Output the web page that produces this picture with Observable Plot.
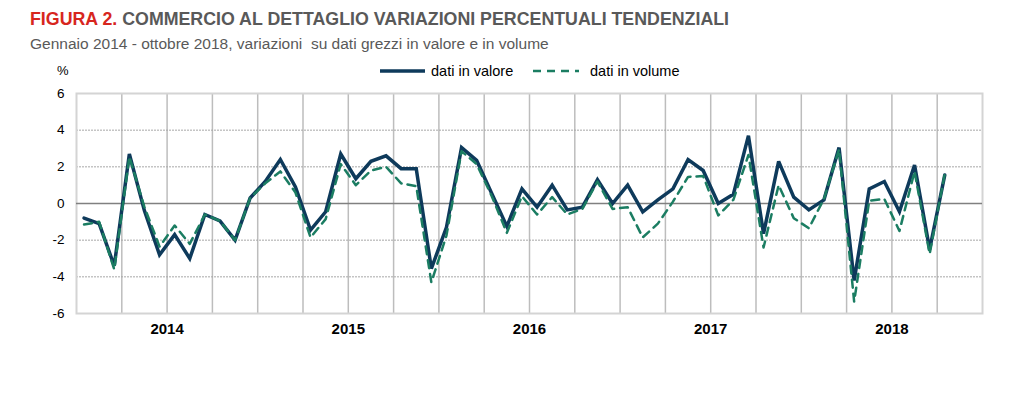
<!DOCTYPE html>
<html>
<head>
<meta charset="utf-8">
<script src="https://cdn.jsdelivr.net/npm/d3@7"></script>
<script src="https://cdn.jsdelivr.net/npm/@observablehq/plot@0.6"></script>
<style>
  html, body { margin: 0; padding: 0; background: #fff; }
  #wrap { position: relative; width: 1024px; height: 397px; font-family: "Liberation Sans", Arial, sans-serif; overflow: hidden; }
  .abs { position: absolute; white-space: nowrap; line-height: 1; }
  #title { left: 30px; top: 11px; font-size: 17.8px; font-weight: bold; color: #595959; }
  #title .red { color: #d7261e; }
  #subtitle { left: 30px; top: 36px; font-size: 15.5px; color: #595959; }
  #pct { left: 57px; top: 64px; font-size: 13px; color: #000; }
  .leg { top: 64px; font-size: 14.5px; color: #000; }
  #chart { position: absolute; left: 0; top: 0; }
</style>
</head>
<body>
<div id="wrap">
  <div id="chart"></div>
  <div class="abs" id="title"><span class="red">FIGURA 2.</span> COMMERCIO AL DETTAGLIO VARIAZIONI PERCENTUALI TENDENZIALI</div>
  <div class="abs" id="subtitle">Gennaio 2014 - ottobre 2018, variazioni&nbsp; su dati grezzi in valore e in volume</div>
  <div class="abs" id="pct">%</div>
  <svg class="abs" style="left:380px;top:66px" width="48" height="10"><line x1="0" y1="5" x2="45" y2="5" stroke="#0e3a5b" stroke-width="3.5"/></svg>
  <div class="abs leg" style="left:431px">dati in valore</div>
  <svg class="abs" style="left:533px;top:66px" width="48" height="10"><line x1="0" y1="5" x2="46" y2="5" stroke="#1b7d62" stroke-width="2.5" stroke-dasharray="8,6"/></svg>
  <div class="abs leg" style="left:590px">dati in volume</div>
</div>
<script>
// Categories: monthly, January 2014 - October 2018
const years = [2014, 2015, 2016, 2017, 2018];
const monthNames = ["gen","feb","mar","apr","mag","giu","lug","ago","set","ott","nov","dic"];
const months = [];
years.forEach(y => monthNames.forEach(m => months.push(m + " " + y)));
months.length = 58; // up to ottobre 2018

// Year-over-year % change, raw data in value
const valore = [-0.8, -1.1, -3.4, 2.7, -0.4, -2.8, -1.7, -3.0, -0.6, -0.95, -2.0, 0.3,
  1.2, 2.4, 0.9, -1.45, -0.45, 2.7, 1.35, 2.3, 2.6, 1.9, 1.9, -3.55,
  -1.3, 3.05, 2.35, 0.55, -1.25, 0.8, -0.2, 1.0, -0.35, -0.2, 1.3, 0.0,
  1.0, -0.45, 0.2, 0.8, 2.4, 1.8, 0.0, 0.5, 3.7, -1.65, 2.3, 0.35,
  -0.35, 0.2, 3.05, -4.2, 0.8, 1.2, -0.45, 2.1, -2.5, 1.55];

// Year-over-year % change, raw data in volume
const volume = [-1.15, -1.0, -3.6, 2.55, -0.2, -2.35, -1.2, -2.2, -0.6, -0.95, -2.0, 0.3,
  1.1, 1.75, 0.6, -1.85, -0.85, 2.15, 1.0, 1.8, 2.0, 1.1, 0.95, -4.3,
  -1.75, 2.85, 2.15, 0.4, -1.6, 0.4, -0.6, 0.35, -0.6, -0.3, 1.2, -0.3,
  -0.2, -1.85, -1.1, 0.1, 1.45, 1.5, -0.65, 0.2, 2.65, -2.4, 1.0, -0.8,
  -1.35, 0.25, 2.95, -5.35, 0.15, 0.25, -1.5, 1.75, -2.75, 1.6];

const yTicks = [-6, -4, -2, 0, 2, 4, 6];

// build table (category slots: 12 per year, 5 years)
const nSlots = years.length * 12;
const rows = months.map((m, i) => ({month: m, pos: i + 0.5, valore: valore[i], volume: volume[i]}));
const quarterLines = d3.range(3, nSlots, 3);
const yearCenters = years.map((y, k) => ({pos: k * 12 + 6, label: String(y)}));

const chart = Plot.plot({
  width: 1024,
  height: 397,
  marginTop: 93,
  marginBottom: 84,
  marginLeft: 76,
  marginRight: 42,
  style: {fontFamily: "'Liberation Sans', Arial, sans-serif", background: "transparent"},
  x: {type: "linear", domain: [0, nSlots], axis: null},
  y: {domain: [-6, 6], axis: null},
  marks: [
    Plot.ruleX(quarterLines, {stroke: "#bdbdbd", strokeWidth: 1.5}),
    Plot.ruleY(yTicks.filter(d => d !== 0 && Math.abs(d) !== 6), {stroke: "#a8a8a8", strokeWidth: 1, strokeDasharray: "2,1"}),
    Plot.frame({stroke: "#d4d4d4", strokeWidth: 2}),
    Plot.ruleY([0], {stroke: "#808080", strokeWidth: 1.5}),
    Plot.axisY(yTicks, {tickSize: 0, tickPadding: 12, fontSize: 13.5, label: null, fill: "#000", tickFormat: d => String(d)}),
    Plot.axisX(yearCenters.map(d => d.pos), {tickSize: 0, tickPadding: 10, fontSize: 15, fontWeight: "bold", label: null,
      tickFormat: p => yearCenters.find(d => d.pos === p).label, fill: "#000"}),
    Plot.line(rows, {x: "pos", y: "valore", stroke: "#0e3a5b", strokeWidth: 3.5, strokeLinejoin: "miter", strokeMiterlimit: 3}),
    Plot.line(rows, {x: "pos", y: "volume", stroke: "#1b7d62", strokeWidth: 2.5, strokeDasharray: "8,6"})
  ]
});
document.getElementById("chart").appendChild(chart);
</script>
</body>
</html>
